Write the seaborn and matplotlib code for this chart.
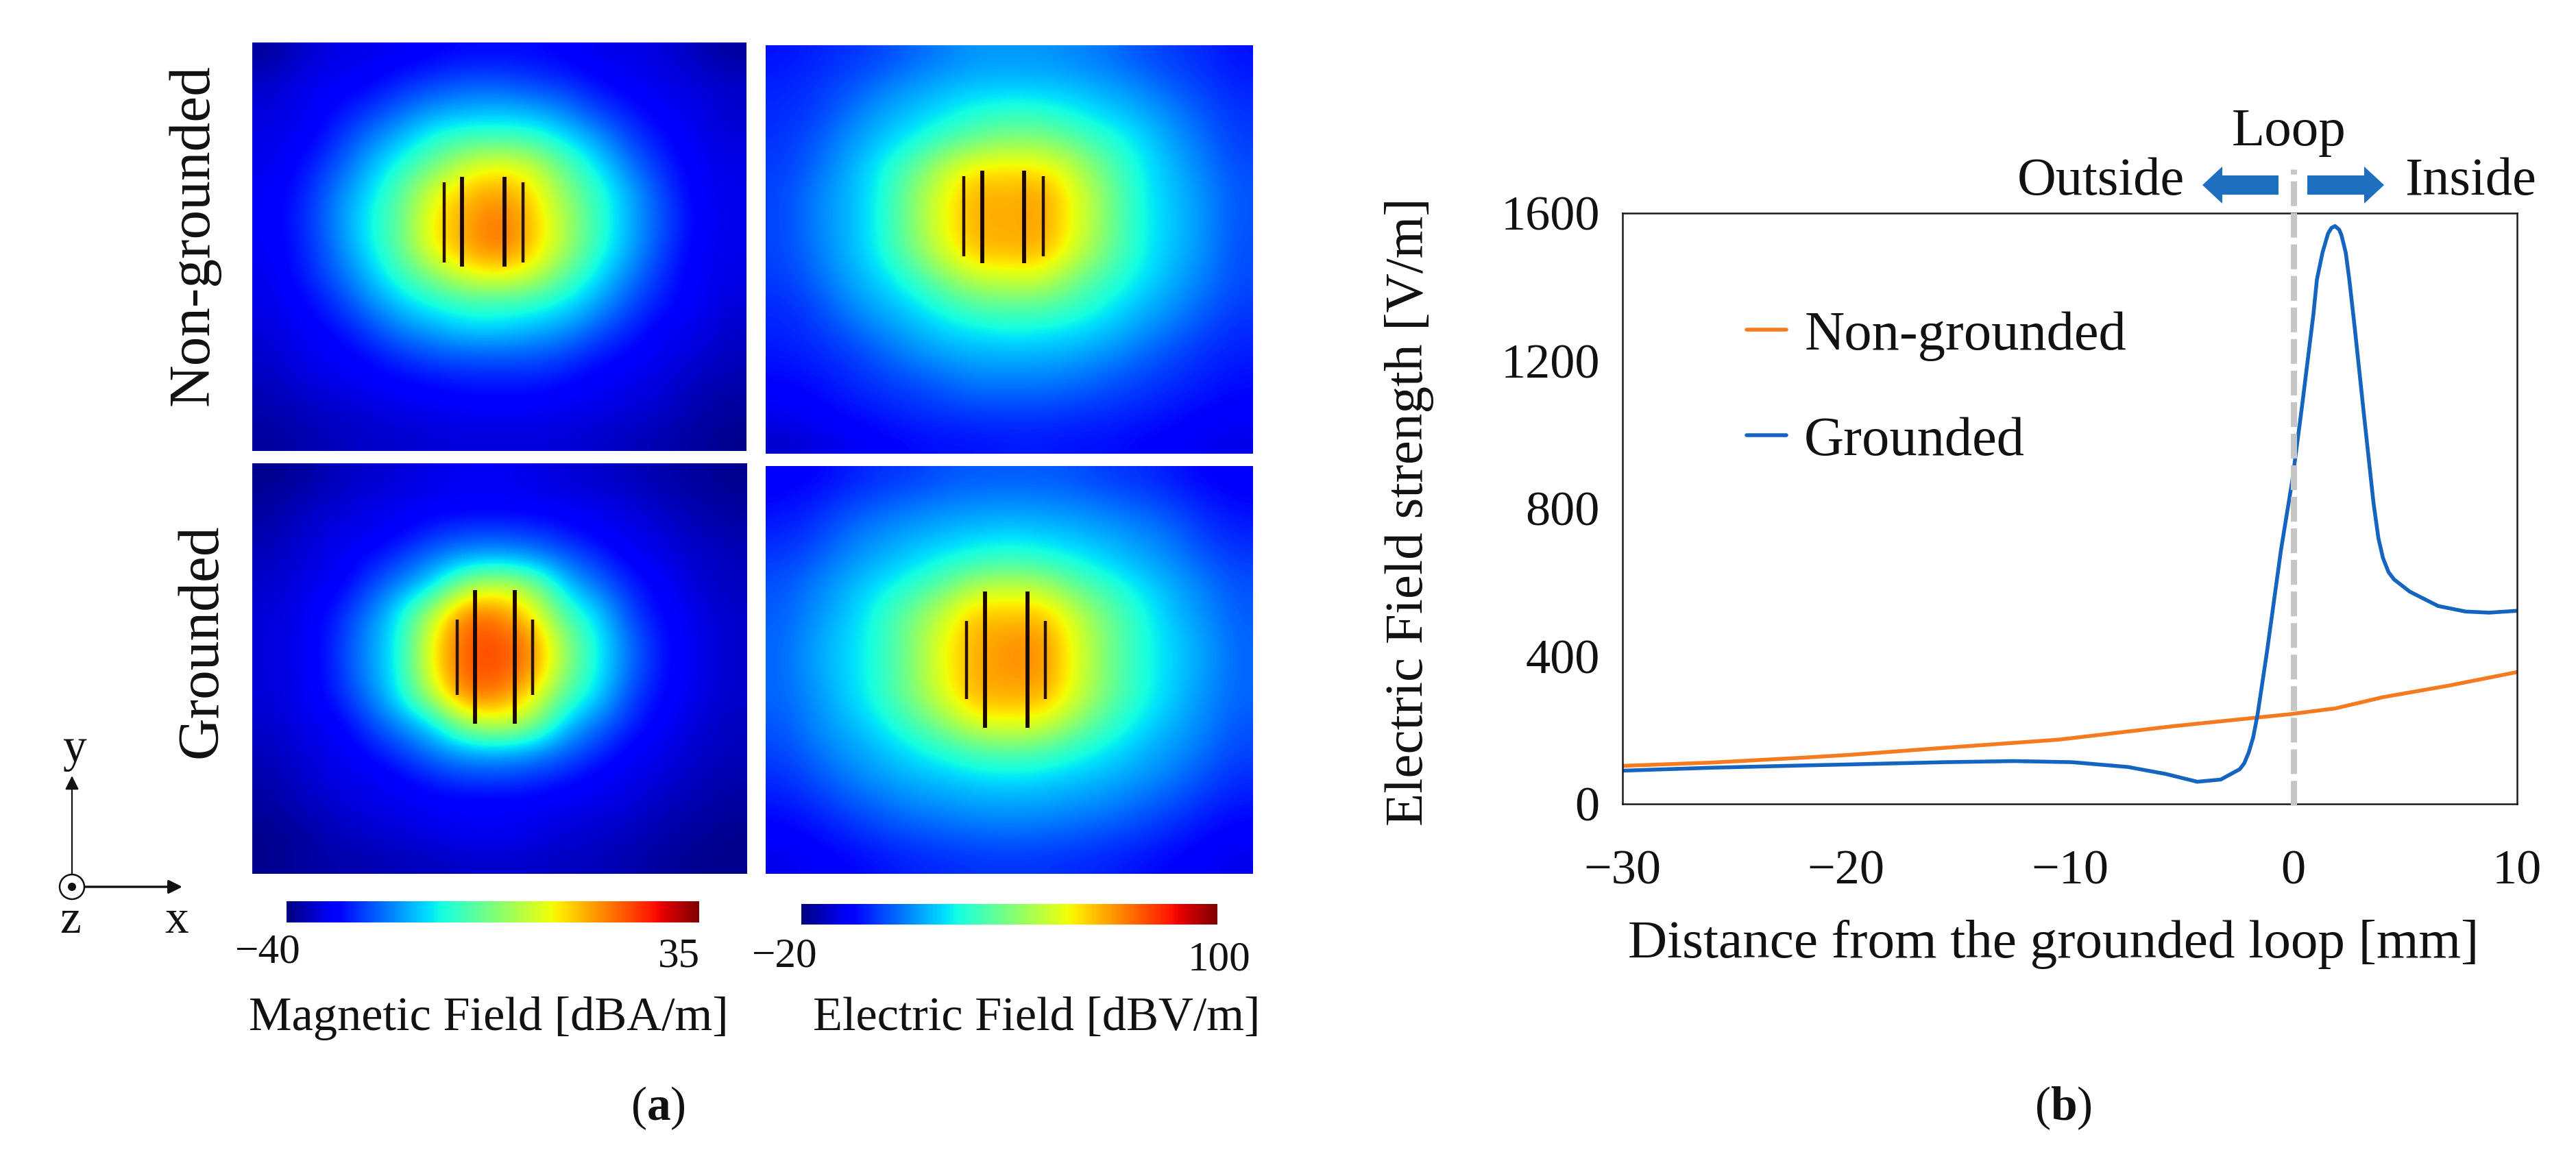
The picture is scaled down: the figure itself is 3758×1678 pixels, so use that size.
import numpy as np
import pandas as pd
import seaborn as sns
import matplotlib.pyplot as plt
from matplotlib.cm import ScalarMappable
from matplotlib.colors import Normalize
from matplotlib.patches import Ellipse, FancyArrow

# field maps, dB values on a coarse grid
mag_non = [
    [-38,-35,-33,-33,-32,-31,-30,-30,-30,-31,-33,-33,-34,-36,-38],
    [-35,-33,-32,-31,-28,-26,-24,-24,-26,-27,-30,-32,-33,-34,-35],
    [-34,-33,-30,-27,-23,-19,-18,-17,-18,-21,-26,-29,-32,-33,-35],
    [-33,-32,-28,-22,-17,-11,-8,-8,-9,-14,-19,-26,-30,-33,-34],
    [-33,-30,-25,-18,-11,-4,5,8,5,-6,-14,-22,-28,-32,-33],
    [-32,-29,-22,-15,-6,7,13,16,11,-1,-10,-18,-26,-32,-33],
    [-32,-28,-21,-13,-5,10,15,20,13,2,-9,-18,-25,-31,-33],
    [-32,-29,-22,-14,-5,10,15,20,13,2,-10,-18,-26,-32,-33],
    [-33,-29,-24,-17,-9,-1,8,10,6,-5,-14,-21,-28,-32,-33],
    [-33,-31,-27,-21,-15,-11,-8,-8,-9,-13,-18,-25,-29,-32,-34],
    [-34,-32,-30,-26,-21,-18,-15,-15,-17,-19,-24,-28,-32,-33,-35],
    [-35,-33,-32,-30,-27,-25,-24,-24,-24,-26,-29,-31,-33,-34,-36],
    [-36,-34,-33,-32,-31,-30,-29,-29,-29,-30,-32,-33,-34,-36,-37],
    [-37,-36,-35,-34,-33,-33,-32,-32,-32,-33,-33,-34,-35,-37,-38],
    [-38,-37,-36,-35,-35,-34,-34,-34,-34,-34,-35,-36,-37,-38,-39],
]
elec_non = [
    [-3,-1,1,3,7,10,13,13,13,11,9,5,2,0,-3],
    [-1,1,4,9,13,16,18,18,18,17,14,11,6,2,-1],
    [0,2,8,14,18,22,27,29,28,24,20,16,11,5,1],
    [1,5,12,18,24,32,38,42,42,36,28,22,14,8,2],
    [2,7,15,23,35,50,60,60,60,50,36,24,17,10,4],
    [3,10,16,24,41,56,68,66,70,56,41,25,18,12,5],
    [3,10,16,24,41,57,68,66,70,56,41,25,19,12,5],
    [3,9,16,24,39,54,67,66,68,54,39,25,18,12,4],
    [2,7,14,20,29,42,52,54,54,41,31,23,16,10,4],
    [0,3,11,16,21,28,35,36,36,31,24,18,13,7,2],
    [-1,1,5,11,15,20,22,24,23,21,18,13,8,3,0],
    [-3,-1,1,5,10,13,15,15,15,14,11,7,3,0,-2],
    [-5,-4,-1,1,3,6,9,9,9,7,5,2,0,-2,-4],
    [-8,-6,-4,-2,0,1,2,2,2,1,0,-1,-3,-5,-6],
    [-12,-10,-8,-6,-4,-3,-3,-2,-2,-3,-3,-5,-6,-8,-9],
]
mag_gnd = [
    [-39,-38,-36,-35,-34,-33,-32,-32,-33,-34,-35,-36,-37,-38,-39],
    [-38,-36,-35,-33,-33,-32,-32,-32,-32,-33,-33,-34,-36,-37,-38],
    [-37,-35,-33,-33,-31,-28,-26,-26,-27,-29,-32,-33,-34,-36,-37],
    [-36,-34,-33,-30,-26,-21,-18,-17,-19,-23,-27,-32,-33,-35,-36],
    [-35,-33,-32,-26,-20,-14,2,6,0,-16,-22,-28,-32,-34,-36],
    [-34,-33,-29,-22,-13,4,20,18,10,-8,-15,-26,-31,-33,-35],
    [-34,-33,-28,-20,-12,10,22,22,18,-1,-13,-23,-30,-33,-35],
    [-34,-33,-28,-20,-12,10,22,22,18,-1,-13,-23,-30,-33,-35],
    [-34,-33,-29,-22,-13,4,20,18,10,-7,-15,-26,-31,-33,-35],
    [-35,-33,-32,-26,-20,-14,2,6,0,-16,-22,-28,-32,-34,-36],
    [-36,-34,-33,-30,-26,-21,-18,-17,-19,-23,-27,-32,-33,-35,-36],
    [-37,-35,-33,-33,-31,-28,-26,-26,-27,-29,-32,-33,-34,-36,-37],
    [-38,-36,-35,-33,-33,-32,-32,-32,-32,-33,-33,-34,-36,-37,-38],
    [-39,-38,-36,-35,-34,-33,-32,-32,-33,-34,-35,-36,-37,-38,-39],
    [-39,-38,-37,-37,-36,-36,-35,-35,-35,-36,-36,-37,-38,-39,-39],
]
elec_gnd = [
    [-6,-5,-2,1,2,5,6,6,6,5,2,1,-2,-5,-6],
    [-4,-1,3,6,9,11,12,13,12,11,9,6,3,-1,-4],
    [-1,2,8,12,15,17,19,20,19,17,15,12,8,2,-1],
    [2,6,12,16,20,25,29,31,29,25,20,16,12,6,2],
    [5,10,16,22,29,38,50,52,50,38,30,22,16,10,5],
    [6,12,18,27,39,52,66,64,66,52,38,27,18,12,6],
    [7,14,20,27,41,57,68,70,72,56,40,27,20,14,7],
    [7,14,20,27,41,57,68,70,72,56,40,27,20,14,7],
    [7,12,19,27,40,54,68,66,68,54,38,27,19,12,7],
    [5,11,16,22,31,42,54,56,54,42,31,22,16,11,5],
    [3,8,13,17,22,27,33,35,33,27,22,17,13,8,3],
    [0,4,9,13,16,18,20,21,20,18,16,13,9,4,0],
    [-3,0,4,7,11,12,14,14,14,12,11,7,4,0,-3],
    [-6,-4,-1,2,4,6,7,8,7,6,4,2,-1,-4,-6],
    [-9,-7,-5,-3,-1,0,1,1,1,0,-1,-3,-5,-7,-9],
]

# loop conductors, fractions of the panel: x positions, short span, long span
wires_mag_non = ([0.388, 0.425, 0.510, 0.548], (0.342, 0.538), (0.329, 0.548))
wires_elec_non = ([0.407, 0.444, 0.530, 0.569], (0.320, 0.516), (0.307, 0.533))
wires_mag_gnd = ([0.414, 0.450, 0.530, 0.566], (0.380, 0.564), (0.309, 0.634))
wires_elec_gnd = ([0.412, 0.450, 0.537, 0.574], (0.379, 0.571), (0.308, 0.642))

mag_range = (-40, 35)
elec_range = (-20, 100)
mag_cbar_ticks = [-30, -17, -4, 9, 22]
elec_cbar_ticks = [-4, 17, 38, 59, 80]

# line chart (b)
dist_grounded = [-30, -26, -22, -19.8, -15.6, -12.5, -9.9, -7.4, -5.7, -4.3, -3.25, -2.4, -2.2, -2.0,
                 -1.8, -1.6, -1.18, -0.56, -0.04, 0.37, 0.89, 1.05, 1.3, 1.55, 1.7, 1.86, 2.05, 2.15,
                 2.34, 2.5, 2.75, 3.16, 3.58, 3.8, 4.0, 4.25, 4.5, 5.2, 6.47, 7.7, 8.75, 10]
field_grounded = [90, 98, 104, 107, 113, 116, 113, 100, 81, 60, 66, 94, 110, 139,
                  180, 243, 413, 686, 880, 1070, 1324, 1420, 1493, 1545, 1560, 1565, 1555, 1540,
                  1493, 1420, 1285, 1051, 816, 720, 667, 628, 608, 575, 536, 521, 518, 523]
dist_non = [-30, -26, -22, -19.8, -15.6, -10.5, -5.3, -0.15, 1.9, 4, 7, 10]
field_non = [103, 112, 125, 133, 152, 174, 211, 243, 259, 289, 321, 357]
x_ticks = [-30, -20, -10, 0, 10]
x_labels = ['\u221230', '\u221220', '\u221210', '0', '10']
y_ticks = [0, 400, 800, 1200, 1600]

W, H = 3758, 1678
sns.set_theme(style='white')
plt.rcParams['font.family'] = ['Liberation Serif', 'DejaVu Serif']
plt.rcParams['mathtext.fontset'] = 'custom'
plt.rcParams['mathtext.rm'] = 'Liberation Serif'
plt.rcParams['mathtext.bf'] = 'Liberation Serif:bold'

fig = plt.figure(figsize=(W / 100, H / 100), dpi=100)


def px_axes(left, top, right, bottom):
    return fig.add_axes([left / W, 1 - bottom / H, (right - left) / W, (bottom - top) / H])


def field_panel(box, grid, lims, wires):
    ax = px_axes(*box)
    ax.imshow(np.array(grid), cmap='jet', vmin=lims[0], vmax=lims[1], interpolation='bicubic',
              extent=(0, 1, 1, 0), aspect='auto')
    xs, short, long_ = wires
    ax.vlines([xs[0], xs[3]], short[0], short[1], color='#2a1208', lw=3.2)
    ax.vlines([xs[1], xs[2]], long_[0], long_[1], color='#1c0606', lw=4.2)
    ax.set_xlim(0, 1)
    ax.set_ylim(1, 0)
    ax.axis('off')


def cbar(box, lims, ticks):
    cax = px_axes(*box)
    sm = ScalarMappable(norm=Normalize(*lims), cmap='jet')
    cb = fig.colorbar(sm, cax=cax, orientation='horizontal', ticks=ticks)
    cb.outline.set_visible(False)
    cax.tick_params(axis='x', direction='in', length=6, width=1.2, color='#303030',
                    top=True, bottom=True, labelbottom=False)


field_panel((368, 62, 1089, 658), mag_non, mag_range, wires_mag_non)
field_panel((1117, 66, 1828, 662), elec_non, elec_range, wires_elec_non)
field_panel((368, 676, 1090, 1275), mag_gnd, mag_range, wires_mag_gnd)
field_panel((1117, 680, 1828, 1275), elec_gnd, elec_range, wires_elec_gnd)
cbar((418, 1315, 1020, 1346), mag_range, mag_cbar_ticks)
cbar((1169, 1319, 1776, 1349), elec_range, elec_cbar_ticks)

# chart (b)
df = pd.concat([
    pd.DataFrame({'dist': dist_non, 'field': field_non, 'case': 'Non-grounded'}),
    pd.DataFrame({'dist': dist_grounded, 'field': field_grounded, 'case': 'Grounded'}),
])
ax = px_axes(2367, 311, 3672, 1173)
sns.lineplot(data=df, x='dist', y='field', hue='case', palette=['#F47B20', '#1565C0'],
             errorbar=None, estimator=None, lw=4, ax=ax)
ax.axvline(0, ymin=-0.002, ymax=1.074, color='#c6c6c6', lw=6.5, ls=(0, (4, 1.1)), clip_on=False, zorder=5)
ax.set_xlim(-30, 10)
ax.set_ylim(0, 1600)
ax.set_xticks(x_ticks, x_labels)
ax.set_yticks(y_ticks)
ax.tick_params(length=0, labelsize=52, labelcolor='#111111', pad=24)
ax.tick_params(axis='x', pad=48)
ax.set_xlabel('')
ax.set_ylabel('')
for s in ax.spines.values():
    s.set_visible(True)
    s.set_color('#1a1a1a')
    s.set_linewidth(1.8)
ax.legend(loc='upper left', bbox_to_anchor=(0.139, 0.835), frameon=False, fontsize=58, borderpad=0,
          borderaxespad=0, handlelength=0.71, handletextpad=0.33, labelspacing=1.0, labelcolor='#111111')

# everything placed by eye goes on a full figure overlay in pixels
ov = fig.add_axes([0, 0, 1, 1], zorder=10)
ov.set_xlim(0, W)
ov.set_ylim(H, 0)
ov.axis('off')
ov.patch.set_alpha(0)


def label(x, y, s, size=50, **kw):
    ov.text(x, y, s, fontsize=size, ha='center', va='center', color='#111111', **kw)


label(283, 343, 'Non-grounded', size=61.5, rotation=90)
label(295, 935, 'Grounded', size=61.5, rotation=90)
label(391, 1390, '\u221240', size=44)
label(990, 1396, '35', size=44)
label(1145, 1396, '\u221220', size=44)
label(1779, 1401, '100', size=44)
label(713, 1486, 'Magnetic Field [dBA/m]', size=50.7)
label(1512, 1486, 'Electric Field [dBV/m]', size=50.7)
label(960, 1617, r'($\mathbf{a}$)', size=50)
label(3010, 1617, r'($\mathbf{b}$)', size=50)
label(2056, 747, 'Electric Field strength [V/m]', size=57, rotation=90)
label(2996, 1378, 'Distance from the grounded loop [mm]', size=57)
label(3339, 193, 'Loop', size=57)
label(3065, 265, 'Outside', size=56.5)
label(3604, 265, 'Inside', size=56.5)

# direction arrows over the chart
for x0, x1 in [(3324, 3213), (3366, 3478)]:
    ov.add_patch(FancyArrow(x0, 270, x1 - x0, 0, width=28, head_width=54, head_length=29,
                            length_includes_head=True, color='#1F6FC0', lw=0))

# xyz triad
ov.annotate('', xy=(105, 1132), xytext=(105, 1276),
            arrowprops=dict(arrowstyle='-|>', lw=1.6, color='#111111', mutation_scale=30, shrinkA=0, shrinkB=0))
ov.annotate('', xy=(266, 1294), xytext=(124, 1294),
            arrowprops=dict(arrowstyle='-|>', lw=2.4, color='#111111', mutation_scale=30, shrinkA=0, shrinkB=0))
ov.add_patch(Ellipse((105, 1294), 36, 36, fc='none', ec='#111111', lw=1.8))
ov.add_patch(Ellipse((105, 1294), 12, 12, fc='#111111', ec='none'))
label(109, 1094, 'y', size=50)
label(103, 1344, 'z', size=50)
label(258, 1344, 'x', size=50)

fig.savefig('out.png', dpi=100, facecolor='white')
